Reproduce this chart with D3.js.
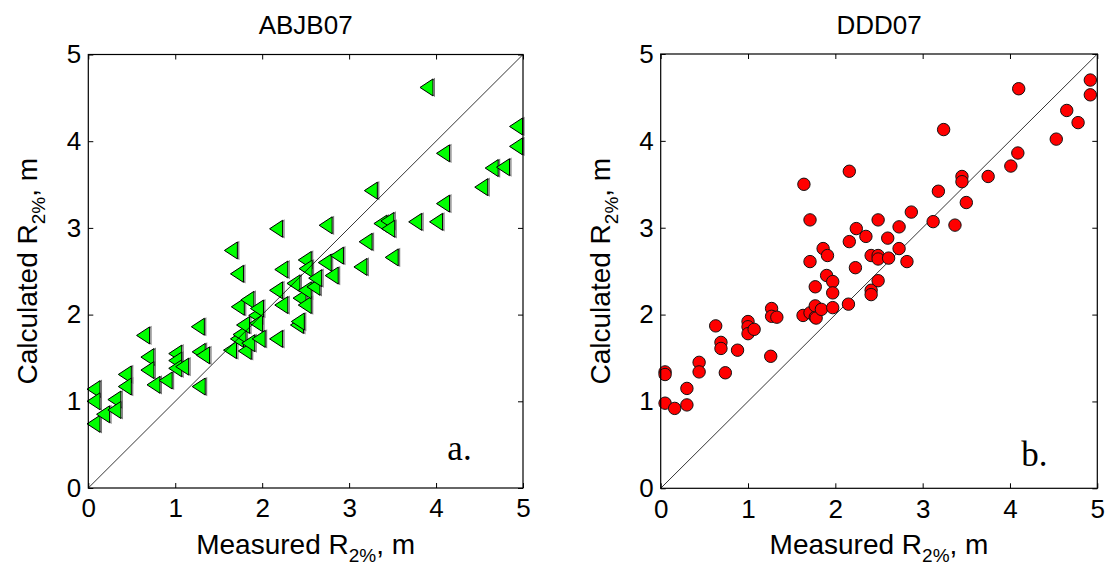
<!DOCTYPE html>
<html>
<head>
<meta charset="utf-8">
<script src="https://cdn.jsdelivr.net/npm/d3@7"></script>
<style>
  html, body { margin: 0; padding: 0; background: #fff; }
  svg { display: block; }
  text { font-family: "Liberation Sans", Arial, Helvetica, sans-serif; fill: #000; }
</style>
</head>
<body>
<svg id="chart" width="1107" height="569"></svg>
<script>
// Panel a: ABJB07 run-up, measured vs. calculated (m)
const abjbMeasured = [
  0.06, 0.06, 0.06, 0.17, 0.30, 0.30, 0.42, 0.42, 0.63, 0.68,
  0.68, 0.75, 0.89, 1.00, 1.00, 1.00, 1.08, 1.26, 1.27, 1.32,
  1.27, 1.63, 1.64, 1.71, 1.71, 1.72, 1.74, 1.78, 1.80, 1.83,
  1.84, 1.92, 1.93, 1.94, 1.96, 2.16, 2.16, 2.16, 2.22, 2.22,
  2.36, 2.40, 2.41, 2.43, 2.49, 2.49, 2.49, 2.50, 2.59, 2.61,
  2.72, 2.73, 2.80, 2.86, 3.13, 3.19, 3.25, 3.36, 3.44, 3.45,
  3.49, 3.76, 3.89, 4.00, 4.08, 4.08, 4.52, 4.64, 4.77, 4.92,
  4.92
];
const abjbCalculated = [
  1.14, 1.00, 0.74, 0.85, 1.02, 0.90, 1.31, 1.17, 1.76, 1.51,
  1.36, 1.19, 1.24, 1.55, 1.47, 1.38, 1.40, 1.86, 1.57, 1.53,
  1.17, 1.59, 2.74, 2.47, 1.72, 2.09, 1.77, 1.88, 1.58, 2.17,
  1.67, 1.99, 1.90, 2.07, 1.72, 2.28, 1.72, 2.99, 2.52, 2.11,
  2.36, 1.88, 1.92, 2.19, 2.11, 2.63, 2.28, 2.53, 2.32, 2.42,
  2.60, 3.03, 2.45, 2.68, 2.55, 2.84, 3.43, 3.05, 3.08, 2.99,
  2.66, 3.07, 4.62, 3.07, 3.86, 3.28, 3.47, 3.69, 3.70, 4.17,
  3.94
];

// Panel b: DDD07 run-up, measured vs. calculated (m)
const dddMeasured = [
  0.05, 0.05, 0.05, 0.16, 0.30, 0.30, 0.44, 0.44, 0.63, 0.69,
  0.69, 0.74, 0.88, 1.00, 1.00, 1.00, 1.07, 1.26, 1.27, 1.27,
  1.33, 1.63, 1.64, 1.71, 1.71, 1.71, 1.77, 1.77, 1.77, 1.78,
  1.84, 1.86, 1.90, 1.91, 1.97, 1.97, 1.97, 2.15, 2.16, 2.16,
  2.23, 2.24, 2.35, 2.41, 2.41, 2.41, 2.49, 2.49, 2.49, 2.49,
  2.60, 2.61, 2.73, 2.73, 2.82, 2.87, 3.12, 3.18, 3.24, 3.37,
  3.45, 3.45, 3.50, 3.75, 4.01, 4.09, 4.10, 4.53, 4.65, 4.78,
  4.92, 4.92
];
const dddCalculated = [
  1.34, 1.31, 0.98, 0.92, 1.15, 0.96, 1.45, 1.34, 1.87, 1.68,
  1.61, 1.33, 1.59, 1.92, 1.86, 1.78, 1.83, 1.52, 2.07, 1.98,
  1.97, 1.99, 3.50, 3.09, 2.61, 2.02, 2.32, 1.97, 2.10, 1.96,
  2.06, 2.76, 2.45, 2.68, 2.38, 2.25, 2.08, 2.12, 3.65, 2.84,
  2.54, 2.99, 2.90, 2.68, 2.28, 2.23, 3.09, 2.68, 2.64, 2.39,
  2.88, 2.65, 3.01, 2.76, 2.61, 3.18, 3.07, 3.42, 4.13, 3.03,
  3.59, 3.53, 3.29, 3.59, 3.71, 3.86, 4.60, 4.02, 4.35, 4.21,
  4.70, 4.53
];

const tickValues = [0, 1, 2, 3, 4, 5];
const panelTitles = ["ABJB07", "DDD07"];
const panelTags = ["a.", "b."];
const tagPosition = [[4.13, 0.32], [4.13, 0.26]];

const svg = d3.select("#chart");
svg.append("rect").attr("width", 1107).attr("height", 569).attr("fill", "#fff");

const panels = [
  { left: 88.3, right: 523, top: 54.5, bottom: 488, xs: abjbMeasured, ys: abjbCalculated, kind: "tri" },
  { left: 660.7, right: 1097.3, top: 54, bottom: 488.3, xs: dddMeasured, ys: dddCalculated, kind: "dot" }
];

// left-pointing triangle marker, centred on its bounding box
const triW = 6.5, triH = 8.5;
const triPath = `M${-triW},0L${triW},${-triH}L${triW},${triH}Z`;

panels.forEach((p, i) => {
  const x = d3.scaleLinear().domain([0, 5]).range([p.left, p.right]);
  const y = d3.scaleLinear().domain([0, 5]).range([p.bottom, p.top]);
  const g = svg.append("g");

  // axes with inward ticks on all four sides
  const axFont = g => g.selectAll("text").style("font-size", "26px").attr("fill", "#000");
  const clean = g => { g.select(".domain").remove(); g.selectAll("line").attr("stroke", "#000"); };

  g.append("g").attr("transform", `translate(0,${p.bottom})`)
    .call(d3.axisBottom(x).tickValues(tickValues).tickFormat(d3.format("d")).tickSizeInner(-5).tickSizeOuter(0).tickPadding(11))
    .call(clean).call(axFont);
  g.append("g").attr("transform", `translate(${p.left},0)`)
    .call(d3.axisLeft(y).tickValues(tickValues).tickFormat(d3.format("d")).tickSizeInner(-5).tickSizeOuter(0).tickPadding(7))
    .call(clean).call(axFont);
  g.append("g").attr("transform", `translate(0,${p.top})`)
    .call(d3.axisTop(x).tickValues(tickValues).tickFormat("").tickSizeInner(-5).tickSizeOuter(0))
    .call(clean);
  g.append("g").attr("transform", `translate(${p.right},0)`)
    .call(d3.axisRight(y).tickValues(tickValues).tickFormat("").tickSizeInner(-5).tickSizeOuter(0))
    .call(clean);

  const pts = p.xs.map((v, k) => [v, p.ys[k]]);
  const oneToOne = () => g.append("line")
    .attr("x1", x(0)).attr("y1", y(0)).attr("x2", x(5)).attr("y2", y(5))
    .attr("stroke", "#000").attr("stroke-width", 0.8);

  if (p.kind === "tri") {
    const m = g.append("g").selectAll("g").data(pts).join("g")
      .attr("transform", d => `translate(${x(d[0])},${y(d[1])})`);
    m.append("path").attr("d", triPath).attr("transform", "translate(1.4,0)")
      .attr("fill", "none").attr("stroke", "#777").attr("stroke-width", 1.2);
    m.append("path").attr("d", triPath)
      .attr("fill", "#00ff00").attr("stroke", "#000").attr("stroke-width", 1);
    oneToOne();
  } else {
    oneToOne();
    g.append("g").selectAll("circle").data(pts).join("circle")
      .attr("cx", d => x(d[0])).attr("cy", d => y(d[1])).attr("r", 6.2)
      .attr("fill", "#ff0000").attr("stroke", "#111").attr("stroke-width", 1);
  }

  // frame
  g.append("rect").attr("x", p.left).attr("y", p.top)
    .attr("width", p.right - p.left).attr("height", p.bottom - p.top)
    .attr("fill", "none").attr("stroke", "#000").attr("stroke-width", 1.2);

  const cx = (p.left + p.right) / 2, cy = (p.top + p.bottom) / 2;

  g.append("text").attr("x", cx).attr("y", 34).attr("text-anchor", "middle")
    .style("font-size", "26px").text(panelTitles[i]);

  const xl = g.append("text").attr("x", cx).attr("y", 554).attr("text-anchor", "middle").style("font-size", "28px");
  xl.append("tspan").text("Measured R");
  xl.append("tspan").attr("dy", 8).style("font-size", "19px").text("2%");
  xl.append("tspan").attr("dy", -8).text(", m");

  const yl = g.append("text").attr("transform", `translate(${p.left - 51},${cy}) rotate(-90)`)
    .attr("text-anchor", "middle").style("font-size", "28px");
  yl.append("tspan").text("Calculated R");
  yl.append("tspan").attr("dy", 8).style("font-size", "19px").text("2%");
  yl.append("tspan").attr("dy", -8).text(", m");

  g.append("text").attr("x", x(tagPosition[i][0])).attr("y", y(tagPosition[i][1]))
    .style("font-family", "'Liberation Serif', 'Times New Roman', serif").style("font-size", "35px")
    .text(panelTags[i]);
});
</script>
</body>
</html>
